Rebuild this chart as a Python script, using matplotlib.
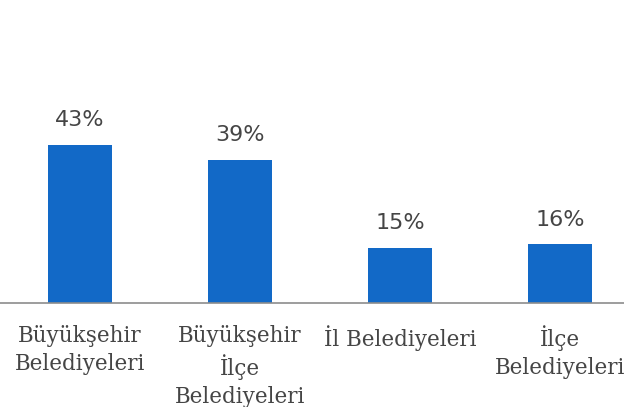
import matplotlib
matplotlib.use("Agg")
import matplotlib.pyplot as plt

categories = ["Büyükşehir\nBelediyeleri", "Büyükşehir\nİlçe\nBelediyeleri", "İl Belediyeleri", "İlçe\nBelediyeleri"]
values = [43, 39, 15, 16]
value_labels = ["43%", "39%", "15%", "16%"]

W, H = 624, 407
fig = plt.figure(figsize=(W / 100, H / 100), dpi=100)
# axes extends beyond right edge (chart cropped)
ax = fig.add_axes([0, (H - 303) / H, 640 / W, 303 / H])
x = list(range(len(categories)))
bars = ax.bar(x, values, width=0.4, color="#1269C7")
ax.set_xlim(-0.5, 3.5)
ax.set_ylim(0, 303 / 3.674)
for xi, v, lab in zip(x, values, value_labels):
    ax.text(xi, v + 4.0, lab, ha="center", va="bottom", fontsize=16,
            color="#454545", family="DejaVu Sans")
for s in ["top", "right", "left"]:
    ax.spines[s].set_visible(False)
ax.spines["bottom"].set_color("#8c8c8c")
ax.spines["bottom"].set_linewidth(1.2)
ax.set_yticks([])
ax.set_xticks(x)
ax.set_xticklabels(categories, family="DejaVu Serif", fontsize=15.5, color="#454545",
                   linespacing=1.34)
ax.tick_params(axis="x", length=0, pad=16)
fig.savefig("out.png", dpi=100)
